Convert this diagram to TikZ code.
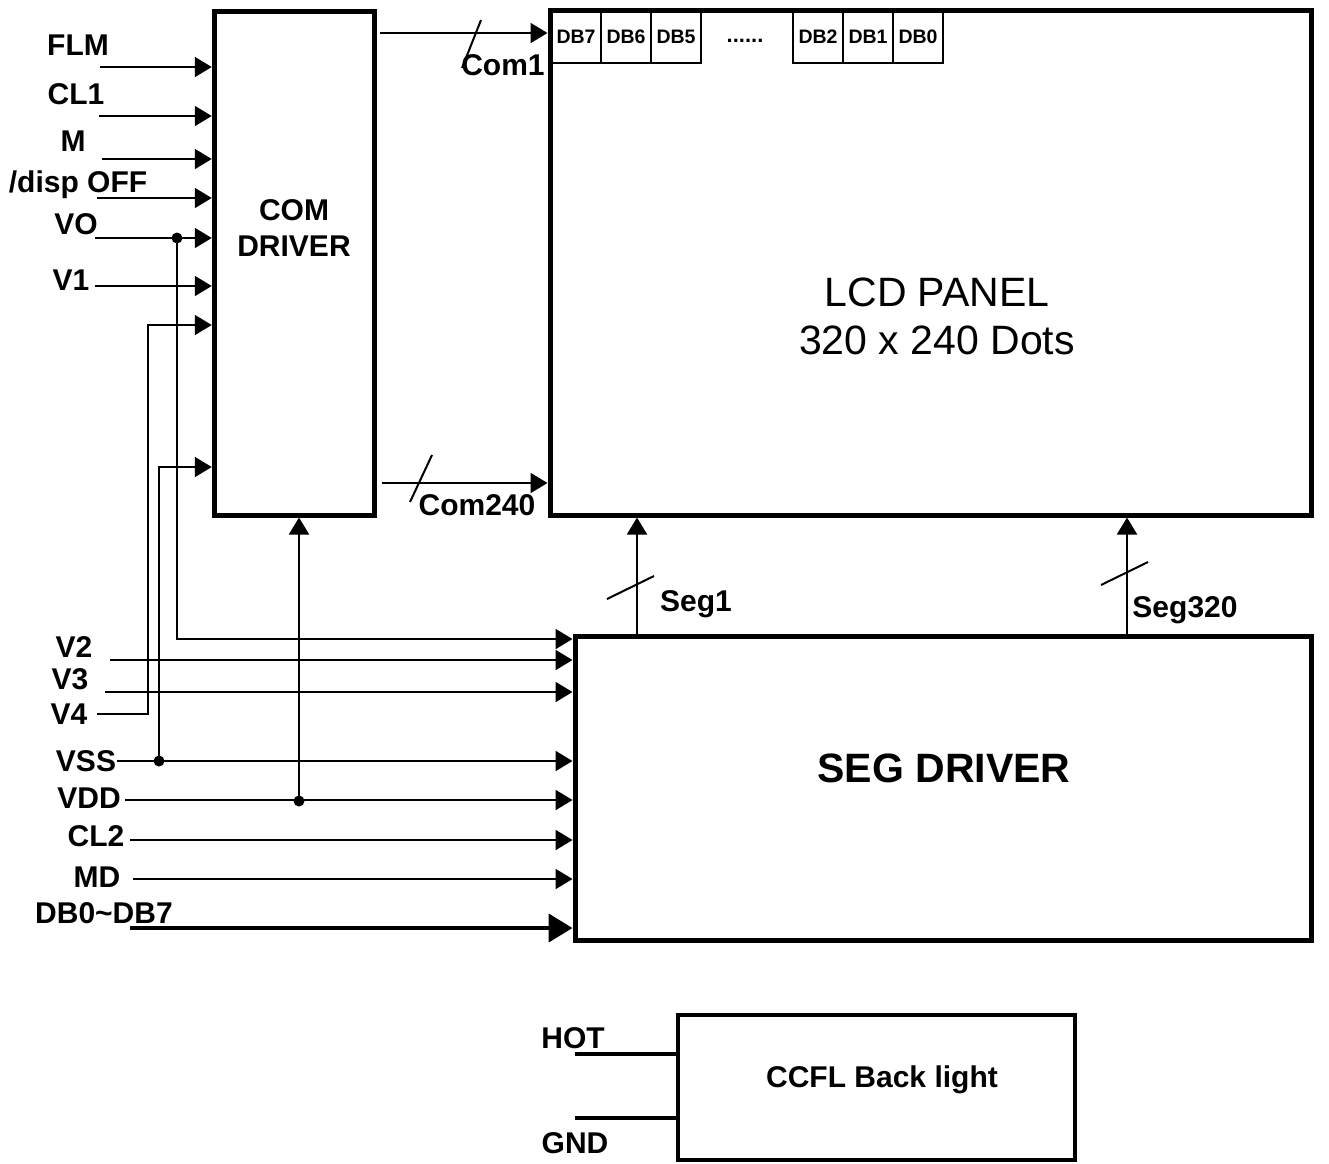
\documentclass[tikz,border=0pt]{standalone}
\usepackage{fontspec}
\setmainfont{Liberation Sans}
\usetikzlibrary{arrows.meta,calc}
\begin{document}
\begin{tikzpicture}[x=1pt,y=-1pt,
  box/.style={draw, line width=5pt, anchor=north west, inner sep=0pt},
  wire/.style={line width=2pt},
  arr/.style={wire, -{Triangle[length=17pt,width=20pt]}},
  bigarr/.style={line width=4.5pt, -{Triangle[length=24pt,width=28pt]}},
  lbl/.style={font=\fontsize{30}{30}\selectfont\bfseries, inner sep=0pt},
  cell/.style={draw, line width=1.5pt, minimum width=50, minimum height=53, inner sep=0pt, font=\fontsize{19.5}{19.5}\selectfont\bfseries},
  jdot/.style={circle, fill, inner sep=0pt, minimum size=11pt},
  tick/.style={line width=2pt}]
\useasboundingbox (0,0) rectangle (1329,1163);

% boxes
\node[box, minimum width=160.5, minimum height=504] (com) at (211.75,8.5) {};
\node[box, minimum width=761, minimum height=505] (lcd) at (547.5,7.5) {};
\node[box, minimum width=736, minimum height=304] (seg) at (572.5,633.5) {};
\node[box, line width=4pt, minimum width=397, minimum height=145] (ccfl) at (676,1013) {};

% box texts
\node[lbl, align=center, font=\fontsize{30}{36}\selectfont\bfseries] (comtxt) at (294,228) {COM\\DRIVER};
\node[align=center, font=\fontsize{41}{48}\selectfont, inner sep=0pt] (lcdtxt) at (937,316) {LCD PANEL\\320 x 240 Dots};
\node[font=\fontsize{41}{41}\selectfont\bfseries, inner sep=0pt] (segtxt) at (944,768) {SEG DRIVER};
\node[lbl] (ccfltxt) at (882,1080) {CCFL Back light};

% DB cells
\node[cell] (db7) at (576,36.5) {DB7};
\node[cell] (db6) at (626,36.5) {DB6};
\node[cell] (db5) at (676,36.5) {DB5};
\node[font=\fontsize{22}{22}\selectfont\bfseries, inner sep=0pt] (dbdots) at (745,41) {......};
\node[cell] (db2) at (818,36.5) {DB2};
\node[cell] (db1) at (868,36.5) {DB1};
\node[cell] (db0) at (918,36.5) {DB0};

% left labels
\node[lbl] (lflm) at (78,45) {FLM};
\node[lbl] (lcl1) at (76,94) {CL1};
\node[lbl] (lm) at (73,141) {M};
\node[lbl] (ldisp) at (78,185) {/disp OFF};
\node[lbl] (lvo) at (76,224) {VO};
\node[lbl] (lv1) at (71,280) {V1};
\node[lbl] (lv2) at (74,647) {V2};
\node[lbl] (lv3) at (70,679) {V3};
\node[lbl] (lv4) at (69,714) {V4};
\node[lbl] (lvss) at (86,761) {VSS};
\node[lbl] (lvdd) at (89,798) {VDD};
\node[lbl] (lcl2) at (96,836) {CL2};
\node[lbl] (lmd) at (97,877) {MD};
\node[lbl] (ldb) at (104,913) {DB0\textasciitilde DB7};
\node[lbl] (lhot) at (573,1038) {HOT};
\node[lbl] (lgnd) at (575,1143) {GND};

% wire start coordinates
\coordinate (flmS) at (100,67);
\coordinate (cl1S) at (99,116);
\coordinate (mS) at (102,159);
\coordinate (dispS) at (97,198);
\coordinate (voS) at (95,238);
\coordinate (v1S) at (95,286);
\coordinate (v2S) at (110,660);
\coordinate (v3S) at (105,692);
\coordinate (v4S) at (97,714);
\coordinate (vssS) at (117,761);
\coordinate (vddS) at (125,800);
\coordinate (cl2S) at (130,840);
\coordinate (mdS) at (133,879);
\coordinate (dbS) at (130,928);
\coordinate (comin7) at (213,325);
\coordinate (comin8) at (213,467);
\coordinate (segin0) at (575,639);
\coordinate (hotS) at (575,1054);
\coordinate (gndS) at (575,1118);

% junctions
\node[jdot] (jvo) at (177,238) {};
\node[jdot] (jvss) at (159,761) {};
\node[jdot] (jvdd) at (299,801) {};

% COM inputs
\draw[arr] (flmS) -- (flmS -| com.west);
\draw[arr] (cl1S) -- (cl1S -| com.west);
\draw[arr] (mS) -- (mS -| com.west);
\draw[arr] (dispS) -- (dispS -| com.west);
\draw[arr] (voS) -- (voS -| com.west);
\draw[arr] (v1S) -- (v1S -| com.west);
\draw[arr] (v4S) -- (148,714) |- (comin7 -| com.west);
\draw[arr] (jvss.center) |- (comin8 -| com.west);
\draw[arr] (jvdd.center) -- (jvdd.center |- com.south);

% SEG inputs
\draw[arr] (jvo.center) |- (segin0 -| seg.west);
\draw[arr] (v2S) -- (v2S -| seg.west);
\draw[arr] (v3S) -- (v3S -| seg.west);
\draw[arr] (vssS) -- (vssS -| seg.west);
\draw[arr] (vddS) -- (vddS -| seg.west);
\draw[arr] (cl2S) -- (cl2S -| seg.west);
\draw[arr] (mdS) -- (mdS -| seg.west);
\draw[bigarr] (dbS) -- (dbS -| seg.west);

% COM -> LCD
\coordinate (c1S) at (380,33);
\coordinate (c240S) at (382,483);
\draw[arr] (c1S) -- (c1S -| lcd.west);
\draw[tick] (462,68) -- (481,20);
\node[lbl] (lcom1) at (503,65) {Com1};
\draw[arr] (c240S) -- (c240S -| lcd.west);
\draw[tick] (410,502) -- (432,455);
\node[lbl] (lcom240) at (477,505) {Com240};

% SEG -> LCD
\coordinate (s1S) at (637,636);
\coordinate (s320S) at (1127,636);
\draw[arr] (s1S) -- (s1S |- lcd.south);
\draw[tick] (607,599) -- (654,576);
\node[lbl] (lseg1) at (696,604) {Seg1};
\draw[arr] (s320S) -- (s320S |- lcd.south);
\draw[tick] (1101,585) -- (1148,562);
\node[lbl] (lseg320) at (1185,610) {Seg320};

% backlight
\draw[line width=3.5pt] (hotS) -- (hotS -| ccfl.west);
\draw[line width=3.5pt] (gndS) -- (gndS -| ccfl.west);
\end{tikzpicture}
\end{document}
